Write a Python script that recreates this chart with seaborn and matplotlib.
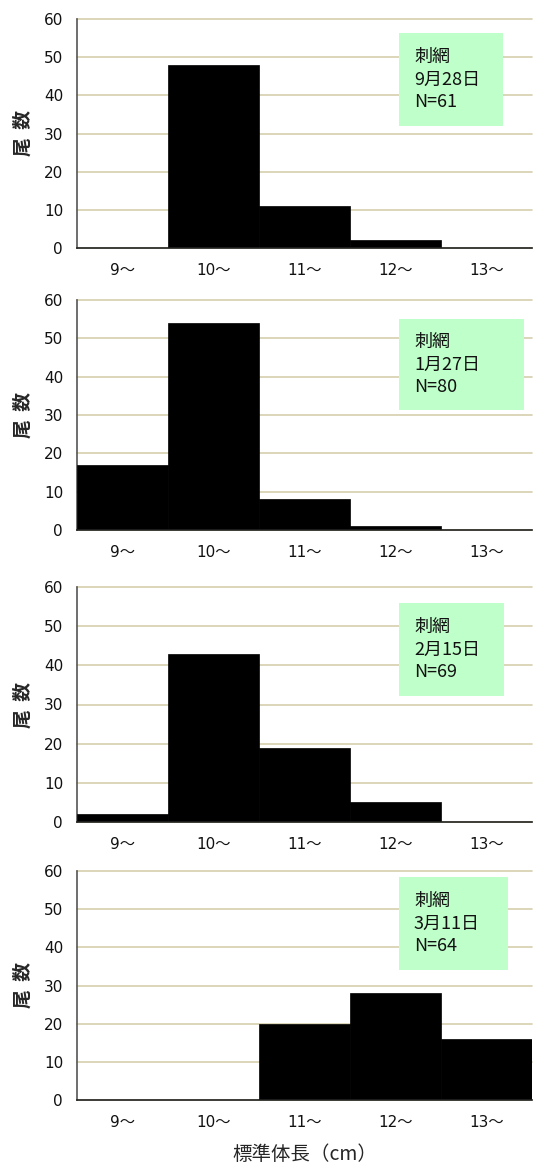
import matplotlib
matplotlib.use("Agg")
import matplotlib.pyplot as plt
import seaborn as sns
import pandas as pd
from matplotlib.patches import Rectangle

sns.set_style("white")
plt.rcParams["font.family"] = ["Noto Sans CJK JP", "DejaVu Sans"]
TICK_FONT = ["DejaVu Sans", "Noto Sans CJK JP"]

# Length classes (standard body length, cm)
classes = ["9～", "10～", "11～", "12～", "13～"]

# Counts per length class for each gill-net sampling date
counts_0928 = [0, 48, 11, 2, 0]
counts_0127 = [17, 54, 8, 1, 0]
counts_0215 = [2, 43, 19, 5, 0]
counts_0311 = [0, 0, 20, 28, 16]

dates = ["9月28日", "1月27日", "2月15日", "3月11日"]
totals = [61, 80, 69, 64]
gear = "刺網"

y_ticks = [0, 10, 20, 30, 40, 50, 60]

# Panel placement in pixels: (top, bottom) of each plotting area
W, H = 538, 1169
panel_px = [(19, 248), (300, 530), (587, 822), (871, 1100)]
ax_left, ax_right = 77, 532
# Label-box placement in pixels: (x0, x1, y0, y1)
box_px = [(399, 503, 33, 126), (399, 524, 319, 410), (399, 504, 603, 696), (399, 508, 877, 970)]

series = [counts_0928, counts_0127, counts_0215, counts_0311]

fig = plt.figure(figsize=(W / 100, H / 100), dpi=100)
grid_color = "#D6CFAE"

for i, (vals, (top, bot), (bx0, bx1, by0, by1)) in enumerate(zip(series, panel_px, box_px)):
    ax = fig.add_axes([ax_left / W, 1 - bot / H, (ax_right - ax_left) / W, (bot - top) / H])
    df = pd.DataFrame({"class": classes, "count": vals})
    sns.barplot(data=df, x="class", y="count", color="black", width=1.0,
                edgecolor="black", linewidth=0.5, saturation=1, ax=ax, zorder=3)
    ax.set_xlim(-0.5, len(classes) - 0.5)
    ax.set_ylim(0, 60)
    ax.set_yticks(y_ticks)
    ax.yaxis.grid(True, color=grid_color, linewidth=1.2, zorder=0)
    for gl in ax.get_ygridlines():
        gl.set_clip_on(False)
    ax.set_axisbelow(True)
    for s in ["top", "right"]:
        ax.spines[s].set_visible(False)
    ax.spines["left"].set_color("#555555")
    ax.spines["left"].set_linewidth(1.2)
    ax.spines["bottom"].set_color("#222222")
    ax.spines["bottom"].set_linewidth(1.2)
    ax.spines["bottom"].set_zorder(4)
    ax.tick_params(axis="both", length=0, colors="#111111")
    ax.tick_params(axis="x", pad=11)
    ax.tick_params(axis="y", pad=10)
    for lab in ax.get_xticklabels() + ax.get_yticklabels():
        lab.set_fontfamily(TICK_FONT)
        lab.set_fontsize(11)
    ax.set_ylabel("尾  数", fontsize=13.5, fontweight="bold", labelpad=8)
    if i == len(series) - 1:
        ax.set_xlabel("標準体長（cm）", fontsize=14, labelpad=10)
    else:
        ax.set_xlabel("")

    # Green label box with gear, date and sample size
    ph = bot - top
    pw = ax_right - ax_left
    rx0 = (bx0 - ax_left) / pw
    rx1 = (bx1 - ax_left) / pw
    ry0 = 1 - (by1 - top) / ph
    ry1 = 1 - (by0 - top) / ph
    ax.add_patch(Rectangle((rx0, ry0), rx1 - rx0, ry1 - ry0, transform=ax.transAxes,
                           facecolor="#BFFFC9", edgecolor="none", zorder=5, clip_on=False))
    tx = (bx0 + 15 - ax_left) / pw
    ty = (ry0 + ry1) / 2
    ax.text(tx, ty, f"{gear}\n{dates[i]}\nN={totals[i]}", transform=ax.transAxes,
            ha="left", va="center", fontsize=13, linespacing=1.35,
            color="#111111", zorder=6)

fig.savefig("out.png", dpi=100)
